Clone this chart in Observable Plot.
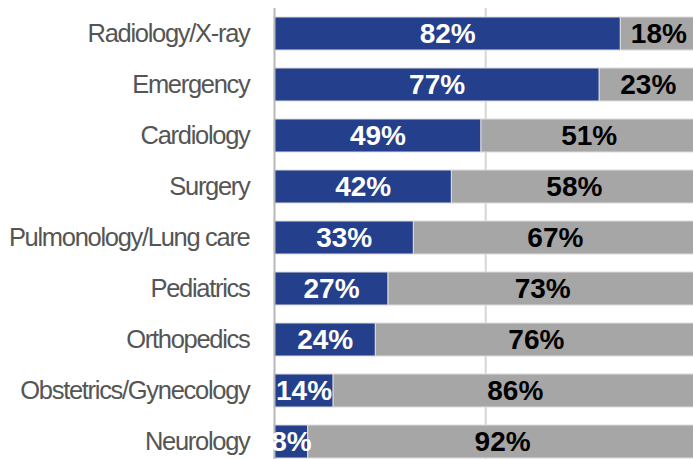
<!DOCTYPE html>
<html><head><meta charset="utf-8">
<script src="https://cdn.jsdelivr.net/npm/d3@7"></script>
<script src="https://cdn.jsdelivr.net/npm/@observablehq/plot@0.6"></script>
<style>
body{margin:0;background:#fff;}
svg{font-family:"Liberation Sans",Arial,sans-serif;}
</style></head>
<body><div id="chart"></div>
<script>
const categories = ["Radiology/X-ray","Emergency","Cardiology","Surgery","Pulmonology/Lung care","Pediatrics","Orthopedics","Obstetrics/Gynecology","Neurology"];
const yesValues = [82,77,49,42,33,27,24,14,8];
const noValues = [18,23,51,58,67,73,76,86,92];
const groups = ["yes","no"];

const data = [];
categories.forEach((c,i)=>{
  data.push({category:c, group:"yes", value:yesValues[i]});
  data.push({category:c, group:"no", value:noValues[i]});
});

const chart = Plot.plot({
  width: 693,
  height: 459,
  marginLeft: 274,
  marginRight: 0,
  marginTop: 8,
  marginBottom: 0,
  x: {domain:[0,99.2], axis:null},
  y: {domain: categories, range:[-1.4,476], padding:0.36, label:null, tickSize:0, tickPadding:25},
  color: {domain: groups, range:["#243f8b","#a6a6a6"]},
  style: {fontFamily:"Liberation Sans, Arial, sans-serif"},
  marks: [
    Plot.ruleX([50], {stroke:"#d6d6d6", strokeWidth:2}),
    Plot.barX(data, Plot.stackX({x:"value", y:"category", z:"group", fill:"group", stroke:"#dcdcdc", strokeWidth:1, inset:0})),
    Plot.ruleX([0], {stroke:"#b8b8b8", strokeWidth:2}),
    Plot.textX(data, Plot.stackX({x:"value", y:"category", z:"group",
      text: d => d.value + "%",
      fill: d => d.group === "yes" ? "white" : "black",
      fontSize: 28, fontWeight: "bold"}))
  ]
});
document.getElementById("chart").appendChild(chart);
d3.select(chart).selectAll("g[aria-label='y-axis tick label'] text, g[aria-label='y-axis tick label']")
  .attr("font-size", 25.5).attr("fill", "#555").style("letter-spacing","-1.3px");
</script></body></html>
